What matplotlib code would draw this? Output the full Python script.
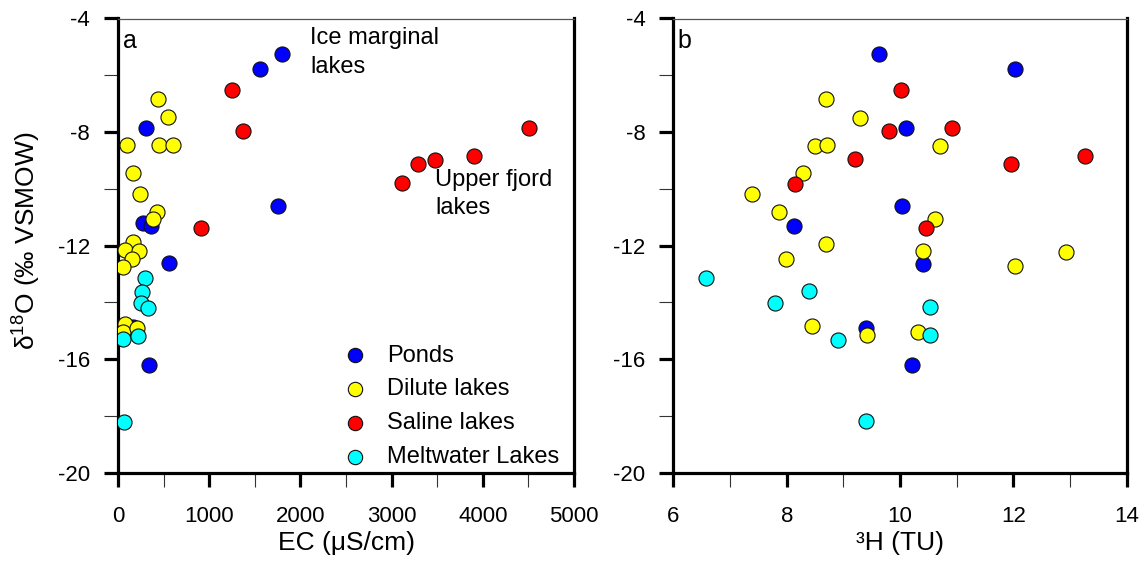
import matplotlib
matplotlib.use("Agg")
import matplotlib.pyplot as plt
from matplotlib.ticker import MultipleLocator

plt.rcParams['font.family'] = ['Liberation Sans', 'DejaVu Sans']
plt.rcParams['mathtext.fontset'] = 'custom'
plt.rcParams['mathtext.rm'] = 'Liberation Sans'
plt.rcParams['mathtext.default'] = 'regular'
plt.rcParams['axes.unicode_minus'] = False

# ---------------- data ----------------
series_names = ["Ponds", "Dilute lakes", "Saline lakes", "Meltwater Lakes"]
series_colors = ["#0000FF", "#FFFF00", "#FF0000", "#00FFFF"]

# Panel a: EC (uS/cm) vs d18O
ponds_ec = [1798, 1560, 307, 1754, 271, 359, 563, 343, 168]
ponds_d18o_a = [-5.24, -5.77, -7.87, -10.59, -11.21, -11.30, -12.62, -16.21, -14.85]

dilute_ec = [442, 552, 95, 450, 603, 168, 238, 424, 380, 161, 77, 234, 150, 58, 77, 52, 205]
dilute_d18o_a = [-6.83, -7.48, -8.46, -8.46, -8.46, -9.43, -10.18, -10.80, -11.06,
                 -11.89, -12.15, -12.18, -12.46, -12.74, -14.76, -15.03, -14.91]

saline_ec = [1254, 1367, 907, 4510, 3907, 3476, 3293, 3117]
saline_d18o_a = [-6.53, -7.96, -11.39, -7.86, -8.84, -8.97, -9.11, -9.80]

melt_ec = [296, 260, 249, 332, 66, 58, 223]
melt_d18o_a = [-13.15, -13.62, -14.03, -14.20, -18.20, -15.30, -15.18]

# Panel b: 3H (TU) vs d18O
ponds_h3 = [9.62, 12.02, 10.11, 10.03, 8.12, 10.41, 9.40, 10.21]
ponds_d18o_b = [-5.24, -5.77, -7.87, -10.59, -11.30, -12.66, -14.91, -16.21]

dilute_h3 = [8.69, 9.30, 8.50, 8.71, 10.71, 8.29, 7.39, 10.61, 7.87, 8.69, 10.41,
             12.93, 7.99, 12.02, 8.44, 10.31, 9.42]
dilute_d18o_b = [-6.83, -7.49, -8.48, -8.45, -8.48, -9.44, -10.19, -11.05, -10.80,
                 -11.93, -12.20, -12.21, -12.48, -12.71, -14.83, -15.03, -15.14]

saline_h3 = [10.01, 9.81, 9.21, 8.14, 10.92, 11.96, 13.27, 10.46]
saline_d18o_b = [-6.53, -7.96, -8.96, -9.82, -7.87, -9.12, -8.84, -11.38]

melt_h3 = [6.58, 8.39, 7.79, 8.90, 9.40, 10.52, 10.52]
melt_d18o_b = [-13.15, -13.61, -14.03, -15.31, -18.18, -14.18, -15.15]

panel_a = [(ponds_ec, ponds_d18o_a), (dilute_ec, dilute_d18o_a),
           (saline_ec, saline_d18o_a), (melt_ec, melt_d18o_a)]
panel_b = [(ponds_h3, ponds_d18o_b), (dilute_h3, dilute_d18o_b),
           (saline_h3, saline_d18o_b), (melt_h3, melt_d18o_b)]

# ---------------- figure ----------------
W, H = 1147, 562
fig = plt.figure(figsize=(W / 100, H / 100), dpi=100)
fig.patch.set_facecolor("white")

ax_a = fig.add_axes([118 / W, 1 - 472.7 / H, (574 - 118) / W, (472.7 - 18.5) / H])
ax_b = fig.add_axes([673.4 / W, 1 - 472.7 / H, (1126.8 - 673.4) / W, (472.7 - 18.5) / H])

MS = 118
for ax, data in ((ax_a, panel_a), (ax_b, panel_b)):
    for (xs, ys), name, col in zip(data, series_names, series_colors):
        ax.scatter(xs, ys, s=MS, c=col, edgecolors="#111111", linewidths=0.8,
                   label=name, zorder=3)
    ax.set_ylim(-20, -4)
    ax.yaxis.set_major_locator(MultipleLocator(4))
    ax.yaxis.set_minor_locator(MultipleLocator(2))
    for side in ("left", "bottom", "right"):
        ax.spines[side].set_linewidth(2.3)
        ax.spines[side].set_color("black")
    ax.spines["top"].set_linewidth(0.9)
    ax.spines["top"].set_color("#555555")
    ax.tick_params(which="major", direction="out", length=10, width=2.3,
                   labelsize=16, color="black")
    ax.tick_params(which="minor", direction="out", length=10, width=0.8,
                   color="#333333")
    ax.tick_params(axis="x", which="major", pad=14)
    ax.tick_params(axis="y", which="major", pad=10)
    ax.tick_params(which="both", right=False, top=False)

ax_a.set_xlim(0, 5000)
ax_a.xaxis.set_major_locator(MultipleLocator(1000))
ax_a.xaxis.set_minor_locator(MultipleLocator(500))
ax_b.set_xlim(6, 14)
ax_b.xaxis.set_major_locator(MultipleLocator(2))
ax_b.xaxis.set_minor_locator(MultipleLocator(1))

ax_a.set_xlabel("EC (\u03bcS/cm)", fontsize=19)
ax_b.set_xlabel("\u00b3H (TU)", fontsize=19)
ax_a.xaxis.set_label_coords(0.5, -0.128)
ax_b.xaxis.set_label_coords(0.5, -0.128)
ax_a.set_ylabel("\u03b4$^{18}$O (\u2030 VSMOW)", fontsize=19)
ax_a.yaxis.set_label_coords(-0.165, 0.51)

ax_a.text(0.01, 0.935, "a", transform=ax_a.transAxes, fontsize=18, va="baseline", ha="left")
ax_b.text(0.01, 0.935, "b", transform=ax_b.transAxes, fontsize=18, va="baseline", ha="left")

ax_a.text(2105, -4.30, "Ice marginal\nlakes", fontsize=17, va="top", ha="left",
          linespacing=1.42)
ax_a.text(3476, -9.30, "Upper fjord\nlakes", fontsize=17, va="top", ha="left",
          linespacing=1.35)

leg = ax_a.legend(loc="upper left", bbox_to_anchor=(0.494, 0.282), frameon=False,
                  fontsize=17, handlelength=1.0, handletextpad=0.84,
                  labelspacing=0.5, borderpad=0, borderaxespad=0,
                  markerscale=0.95, scatterpoints=1)

fig.savefig("out.png", dpi=100, facecolor="white")
